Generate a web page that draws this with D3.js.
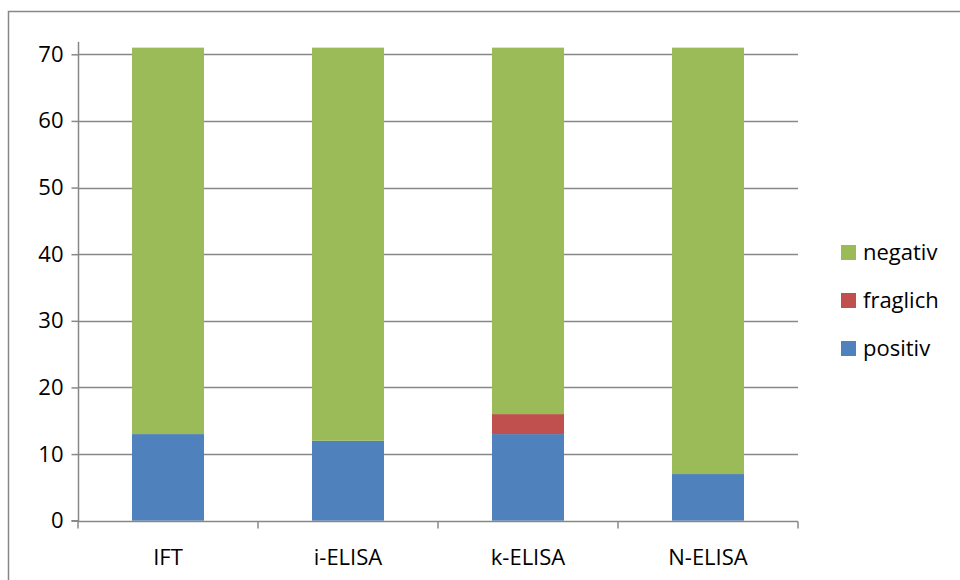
<!DOCTYPE html>
<html>
<head>
<meta charset="utf-8">
<script src="https://cdn.jsdelivr.net/npm/d3@7"></script>
<style>
  body { margin: 0; background: #fff; }
  svg { display: block; }
  text { font-family: "Open Sans", sans-serif; fill: #000; }
</style>
</head>
<body>
<svg id="chart" width="960" height="580"></svg>
<script>
const categories = ["IFT", "i-ELISA", "k-ELISA", "N-ELISA"];
const positiv  = [13, 12, 13, 7];
const fraglich = [0, 0, 3, 0];
const negativ  = [58, 59, 55, 64];
const seriesNames = ["positiv", "fraglich", "negativ"];
const seriesColors = ["#4F81BD", "#C0504D", "#9BBB59"];
const yTicks = [0, 10, 20, 30, 40, 50, 60, 70];

const rows = categories.map((c, i) => ({cat: c, positiv: positiv[i], fraglich: fraglich[i], negativ: negativ[i]}));
const stacked = d3.stack().keys(seriesNames)(rows);

const svg = d3.select("#chart");

// outer chart border
svg.append("rect").attr("x", 8.5).attr("y", 11.5).attr("width", 1000).attr("height", 1000)
  .attr("fill", "none").attr("stroke", "#878787").attr("stroke-width", 1.5);

const x = d3.scaleBand().domain(categories).range([78, 798]).paddingInner(0.6).paddingOuter(0.3);
const y = d3.scaleLinear().domain([0, 70]).range([520.7, 54.3]);

// gridlines
svg.append("g").selectAll("line").data(yTicks.filter(t => t > 0)).join("line")
  .attr("x1", 78).attr("x2", 798)
  .attr("y1", d => Math.round(y(d)) + 0.5).attr("y2", d => Math.round(y(d)) + 0.5)
  .attr("stroke", "#888").attr("stroke-width", 1.5);

// bars
const colorOf = d3.scaleOrdinal().domain(seriesNames).range(seriesColors);
svg.append("g").selectAll("g").data(stacked).join("g")
  .attr("fill", d => colorOf(d.key))
  .selectAll("rect").data(d => d.filter(s => s[1] > s[0])).join("rect")
  .attr("x", d => x(d.data.cat))
  .attr("width", x.bandwidth())
  .attr("y", d => y(d[1]))
  .attr("height", d => y(d[0]) - y(d[1]));

// y axis
const yAxis = d3.axisLeft(y).tickValues(yTicks).tickSize(7).tickPadding(8).tickFormat(d3.format("d"));
const gy = svg.append("g").attr("transform", "translate(78.5,0)").call(yAxis);
gy.select(".domain").attr("stroke", "#888").attr("stroke-width", 1.5).attr("d", `M-7,${y(0)}H0V${y(71)-6}`);
gy.selectAll(".tick line").attr("stroke", "#888").attr("stroke-width", 1.5);
gy.selectAll(".tick text").style("font-size", "22px").attr("fill", "#000").style("font-family", "'Open Sans', sans-serif");

// x axis
const gx = svg.append("g").attr("transform", `translate(0,${Math.round(y(0)) + 0.5})`);
gx.append("line").attr("x1", 78).attr("x2", 798).attr("stroke", "#888").attr("stroke-width", 1.5);
gx.selectAll("line.tk").data(categories.concat(["end"])).join("line").attr("class", "tk")
  .attr("x1", (d, i) => i < categories.length ? x(d) - x.step() * 0.3 : x(categories[3]) + x.bandwidth() + x.step() * 0.3)
  .attr("x2", (d, i) => i < categories.length ? x(d) - x.step() * 0.3 : x(categories[3]) + x.bandwidth() + x.step() * 0.3)
  .attr("y1", 0).attr("y2", 7).attr("stroke", "#888").attr("stroke-width", 1.5);
gx.selectAll("text").data(categories).join("text")
  .attr("x", d => x(d) + x.bandwidth() / 2).attr("y", 43.5)
  .attr("text-anchor", "middle").style("font-size", "22px").text(d => d);

// legend
const legendOrder = ["negativ", "fraglich", "positiv"];
const lg = svg.append("g").selectAll("g").data(legendOrder).join("g")
  .attr("transform", (d, i) => `translate(841,${252 + i * 48})`);
lg.append("rect").attr("x", 0).attr("y", -7).attr("width", 15).attr("height", 15).attr("fill", d => colorOf(d));
lg.append("text").attr("x", 22).attr("y", 0).attr("dy", "0.35em").style("font-size", "22px").text(d => d);
</script>
</body>
</html>
